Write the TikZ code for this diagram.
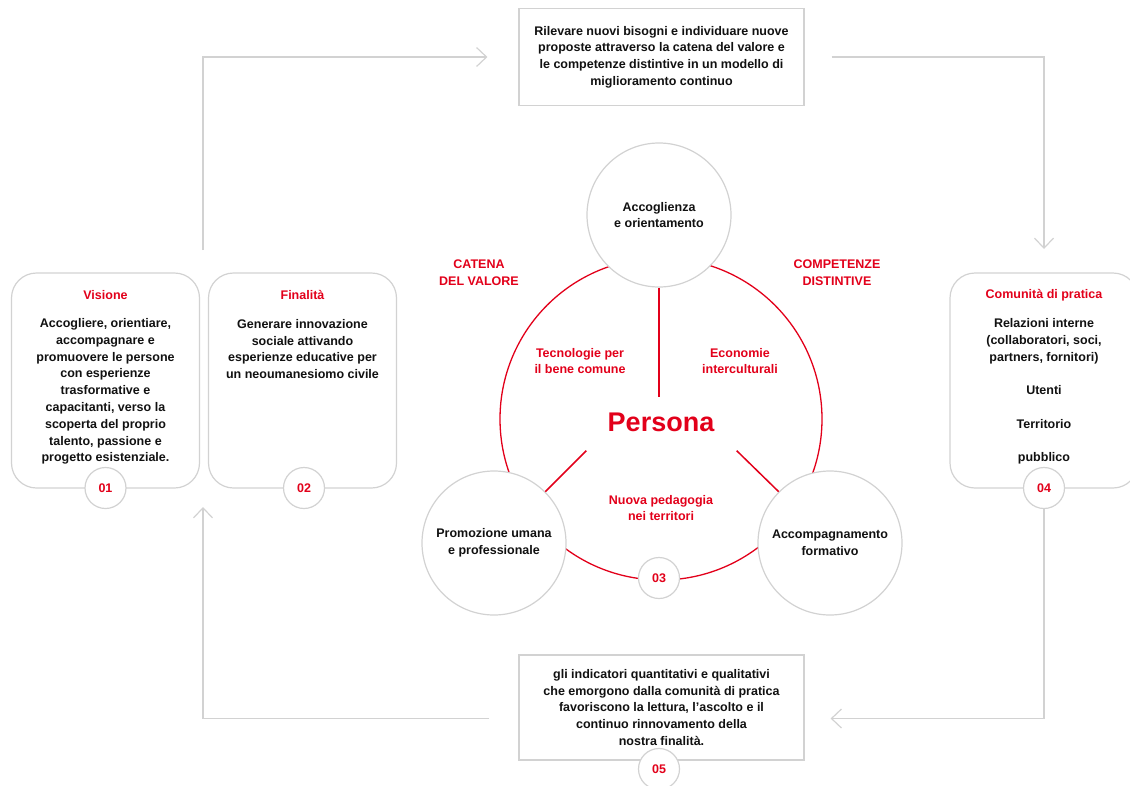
\documentclass[tikz,border=0pt]{standalone}
\usepackage{fontspec}
\setmainfont{Liberation Sans}
\usetikzlibrary{arrows.meta,positioning}
\definecolor{peRed}{HTML}{E2001A}
\definecolor{peLine}{HTML}{D2D2D2}
\definecolor{peInk}{HTML}{111111}
\tikzset{
  txt/.style={font=\bfseries\fontsize{12.5}{16.8}\selectfont, text=peInk, align=center, inner sep=0pt},
  redtxt/.style={txt, text=peRed},
  sidebox/.style={rounded corners=25pt, draw=peLine, line width=1.2pt, minimum width=188pt, minimum height=215pt},
  notebox/.style={draw=peLine, line width=1.2pt, fill=white, minimum width=285pt},
  numdot/.style={circle, draw=peLine, line width=1.2pt, fill=white, minimum size=41pt, inner sep=0pt, text=peRed, font=\bfseries\fontsize{12.5}{15}\selectfont},
  stage/.style={circle, draw=peLine, line width=1.2pt, fill=white, minimum size=144pt, inner sep=0pt, align=center, font=\bfseries\fontsize{12.5}{16.8}\selectfont, text=peInk},
  flow/.style={draw=peLine, line width=1.2pt, -{Straight Barb[length=10pt,width=19pt]}},
  ring/.style={circle, draw=peRed, line width=1.3pt, minimum size=322pt, inner sep=0pt},
  spoke/.style={draw=peRed, line width=1.5pt}
}
\begin{document}
\begin{tikzpicture}[x=1pt,y=-1pt]
  \clip (0,0) rectangle (1130,785);
  \node[notebox, txt, minimum height=97pt] (top) at (661.5,57) {Rilevare nuovi bisogni e individuare nuove\\proposte attraverso la catena del valore e\\le competenze distintive in un modello di\\miglioramento continuo};
  \node[notebox, txt, minimum height=105pt] (bot) at (661.5,707.5) {gli indicatori quantitativi e qualitativi\\che emorgono dalla comunità di pratica\\favoriscono la lettura, l'ascolto e il\\continuo rinnovamento della\\nostra finalità.};
  \node[sidebox] (vis) at (105.5,380.5) {};
  \node[sidebox] (fin) at (302.5,380.5) {};
  \node[sidebox] (com) at (1044,380.5) {};
  \node[redtxt] (visT) at (105.5,295) {Visione};
  \node[txt] (visB) at (105.5,391.5) {Accogliere, orientiare,\\accompagnare e\\promuovere le persone\\con esperienze\\trasformative e\\capacitanti, verso la\\scoperta del proprio\\talento, passione e\\progetto esistenziale.};
  \node[redtxt] (finT) at (302.5,295) {Finalità};
  \node[txt] (finB) at (302.5,349) {Generare innovazione\\sociale attivando\\esperienze educative per\\un neoumanesiomo civile};
  \node[redtxt] (comT) at (1044,295) {Comunità di pratica};
  \node[txt] (comB) at (1044,391.5) {Relazioni interne\\(collaboratori, soci,\\partners, fornitori)\\[16.8pt]Utenti\\[16.8pt]Territorio\\[16.8pt]pubblico};
  \node[numdot] (n1) at (105.5,488) {01};
  \node[numdot] (n2) at (304,488) {02};
  \node[numdot] (n4) at (1044,488) {04};
  \node[numdot] (n5) at (659,769) {05};
  \coordinate (inL) at (203,250);
  \coordinate (inR) at (1044,249);
  \coordinate (outL) at (203,507);
  \draw[flow] (inL) |- ([xshift=-31pt]top.west);
  \draw[flow] ([xshift=27pt]top.east) -| (inR);
  \draw[flow] (n4.south) |- ([xshift=26pt,yshift=-11pt]bot.east);
  \draw[flow] ([xshift=-29pt,yshift=-11pt]bot.west) -| (outL);
  \node[ring] (hub) at (661,419) {};
  \node[stage] (acc) at (659,215) {Accoglienza\\e orientamento};
  \node[stage] (pro) at (494,543) {Promozione umana\\e professionale};
  \node[stage] (acp) at (830,543) {Accompagnamento\\formativo};
  \node[numdot] (n3) at (659,578) {03};
  \draw[spoke] (acc.south) -- ++(0,109);
  \draw[spoke] (pro.45) -- ++(41,-41);
  \draw[spoke] (acp.135) -- ++(-42,-41);
  \node[redtxt, font=\bfseries\fontsize{27}{30}\selectfont] (per) at ([yshift=-3pt]hub.center) {Persona};
  \node[redtxt] (cat) at (479,273) {CATENA\\DEL VALORE};
  \node[redtxt] (cmp) at (837,273) {COMPETENZE\\DISTINTIVE};
  \node[redtxt] (tec) at (580,361) {Tecnologie per\\il bene comune};
  \node[redtxt] (eco) at (740,361) {Economie\\interculturali};
  \node[redtxt] (ped) at (661,508) {Nuova pedagogia\\nei territori};
\end{tikzpicture}
\end{document}
